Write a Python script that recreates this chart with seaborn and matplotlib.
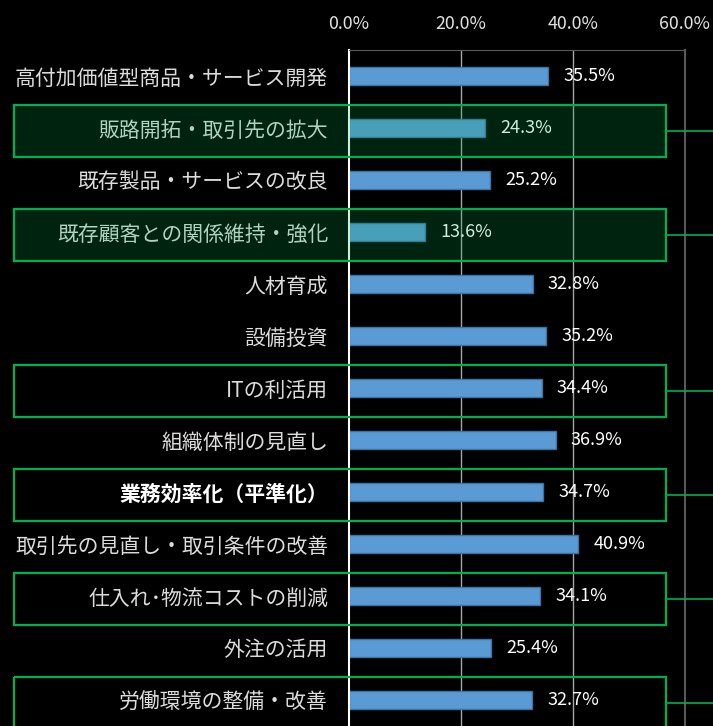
import matplotlib.pyplot as plt
import matplotlib.transforms as mtransforms
from matplotlib.patches import Rectangle
from matplotlib.lines import Line2D
from matplotlib.ticker import PercentFormatter
import seaborn as sns
import pandas as pd

categorias = [
    "高付加価値型商品・サービス開発",
    "販路開拓・取引先の拡大",
    "既存製品・サービスの改良",
    "既存顧客との関係維持・強化",
    "人材育成",
    "設備投資",
    "ITの利活用",
    "組織体制の見直し",
    "業務効率化（平準化）",
    "取引先の見直し・取引条件の改善",
    "仕入れ･物流コストの削減",
    "外注の活用",
    "労働環境の整備・改善",
]
valores = [35.5, 24.3, 25.2, 13.6, 32.8, 35.2, 34.4, 36.9, 34.7, 40.9, 34.1, 25.4, 32.7]
ticks_x = [0, 20, 40, 60]

# rows framed in green; the first two are also tinted
destaque_preenchido = ["販路開拓・取引先の拡大", "既存顧客との関係維持・強化"]
destaque_contorno = ["ITの利活用", "業務効率化（平準化）", "仕入れ･物流コストの削減", "労働環境の整備・改善"]
negrito = "業務効率化（平準化）"

df = pd.DataFrame({"item": categorias, "valor": valores})

sns.set_style("dark")
plt.rcParams["font.family"] = ["Noto Sans CJK JP", "DejaVu Sans"]

fig = plt.figure(figsize=(7.13, 7.26), dpi=100)
fig.patch.set_facecolor("black")
ax = fig.add_axes([349 / 713, 0, (685 - 349) / 713, 676 / 726])
ax.set_facecolor("black")

sns.barplot(data=df, x="valor", y="item", order=categorias, color="#5B9BD5",
            saturation=1, width=0.35, edgecolor="#41719C", linewidth=1, ax=ax)

ax.set_xlim(0, 60)
ax.set_ylim(len(categorias) - 0.5, -0.5)
ax.set_xticks(ticks_x)
ax.xaxis.set_major_formatter(PercentFormatter(decimals=1))
ax.xaxis.tick_top()
ax.tick_params(axis="x", length=0, pad=12, labelsize=12.8, labelcolor="#e0e0e0")
ax.tick_params(axis="y", length=0, pad=15, labelsize=15, labelcolor="#dcdcdc")
ax.set_xlabel("")
ax.set_ylabel("")

for lbl in ax.get_yticklabels():
    if lbl.get_text() == negrito:
        lbl.set_fontweight("bold")
        lbl.set_color("white")

ax.grid(False)
for x in ticks_x[1:-1]:
    ax.axvline(x, color="#a6a6a6", lw=1, zorder=0.5)
ax.spines["left"].set_color("white")
ax.spines["left"].set_linewidth(1.5)
ax.spines["top"].set_color("#595959")
ax.spines["right"].set_color("#595959")
ax.spines["right"].set_linewidth(1.5)
ax.spines["bottom"].set_visible(False)

ax.bar_label(ax.containers[0], fmt="%.1f%%", padding=11, color="white", fontsize=13)

# green frames around the highlighted rows
trans = mtransforms.blended_transform_factory(fig.transFigure, ax.transData)
x0, x1 = 14 / 713, 666 / 713
for nome in destaque_preenchido + destaque_contorno:
    i = categorias.index(nome)
    preenchido = nome in destaque_preenchido
    fig.add_artist(Rectangle((x0, i - 0.45), x1 - x0, 1.0, transform=trans,
                             facecolor="#00B050" if preenchido else "none",
                             alpha=0.2 if preenchido else 1, zorder=5, lw=0))
    fig.add_artist(Rectangle((x0, i - 0.45), x1 - x0, 1.0, transform=trans,
                             facecolor="none", edgecolor="#00B050", lw=1.6, zorder=6))
    fig.add_artist(Line2D([x1, 1.0], [i + 0.05, i + 0.05], transform=trans,
                          color="#00B050", lw=1.2, zorder=6))

fig.savefig("out.png", dpi=100, facecolor=fig.get_facecolor())
